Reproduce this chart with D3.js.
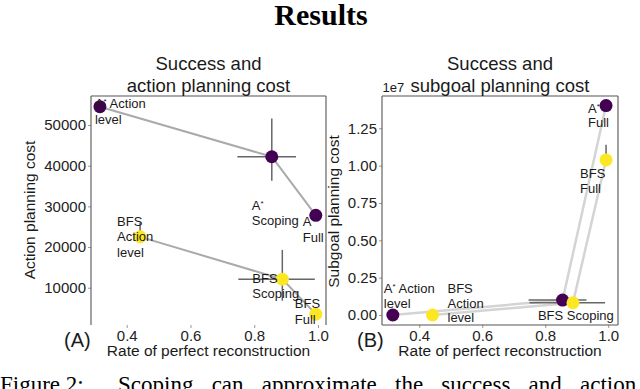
<!DOCTYPE html>
<html>
<head>
<meta charset="utf-8">
<script src="https://cdn.jsdelivr.net/npm/d3@7"></script>
<style>
  body { margin: 0; background: #fff; }
  svg { display: block; }
  text { font-family: 'Liberation Sans', Arial, sans-serif; fill: #1a1a1a; }
</style>
</head>
<body>
<div id="chart"></div>
<script>
// values
const conditions = ['Action level', 'Scoping', 'Full'];
const astarRate = [0.316, 0.855, 0.993];
const bfsRate = [0.442, 0.888, 0.993];
const astarRateErr = [null, [0.747, 0.931], null];
const bfsRateErr = [null, [0.750, 0.990], null];

const astarActionCost = [54500, 42200, 27800];
const bfsActionCost = [22500, 12100, 3500];
const astarActionErr = [null, [36300, 51600], null];
const bfsActionErr = [[22500, 26000], [6800, 19300], null];

// subgoal cost in units of 1e7
const astarSubgoalCost = [0.0, 0.100, 1.402];
const bfsSubgoalCost = [0.0, 0.082, 1.038];
const astarSubgoalErr = [null, null, null];
const bfsSubgoalErr = [null, null, [1.038, 1.14]];

const rateTicks = [0.4, 0.6, 0.8, 1.0];
const actionTicks = [10000, 20000, 30000, 40000, 50000];
const subgoalTicks = [0, 0.25, 0.5, 0.75, 1.0, 1.25];

// point labels, '|' = line break
const leftAstarLabels = ['A* Action|level', 'A*|Scoping', 'A*|Full'];
const leftBfsLabels = ['BFS|Action|level', 'BFS|Scoping', 'BFS|Full'];
const rightAstarLabels = ['A* Action|level', null, 'A*|Full'];
const rightBfsLabels = ['BFS|Action|level', 'BFS Scoping', 'BFS|Full'];

const purple = '#440154';
const yellow = '#fde725';

const width = 640;
const height = 389;

const svg = d3.select('#chart')
              .append('svg')
              .attr('width', width)
              .attr('height', height);

svg.append('text')
   .attr('x', 321)
   .attr('y', 25)
   .attr('text-anchor', 'middle')
   .style('font-family', "'Liberation Serif', 'Times New Roman', serif")
   .style('font-weight', 'bold')
   .style('font-size', '30px')
   .style('fill', '#000')
   .text('Results');

const addLabel = (g, str, x, y, lh) => {
  const t = g.append('text')
             .attr('x', x)
             .attr('y', y)
             .style('font-size', '13px');
  str.split('|').forEach((line, k) => {
    const parts = line.split('*');
    parts.forEach((p, j) => {
      const ts = t.append('tspan').text(p);
      if (j === 0) ts.attr('x', x).attr('y', y + k * lh);
      else ts.attr('dy', 4);
      if (j < parts.length - 1) {
        t.append('tspan').attr('dy', -4).style('font-size', '8px').text('*');
      }
    });
  });
};

const drawPanel = (p) => {
  const g = svg.append('g');
  const x = d3.scaleLinear().domain(p.xDomain).range([p.left, p.right]);
  const y = d3.scaleLinear().domain(p.yDomain).range([p.bottom, p.top]);

  // axes
  const yAxis = d3.axisLeft(y).tickValues(p.yTicks).tickFormat(p.yFormat)
                  .tickSize(3).tickPadding(2);
  const xAxis = d3.axisBottom(x).tickValues(rateTicks).tickFormat(d3.format('.1f'))
                  .tickSize(3).tickPadding(2);
  const ya = g.append('g').attr('transform', 'translate(' + p.left + ',0)').call(yAxis);
  const xa = g.append('g').attr('transform', 'translate(0,' + p.bottom + ')').call(xAxis);
  [ya, xa].forEach((a) => {
    a.select('.domain').remove();
    a.selectAll('line').attr('stroke', '#999');
    a.selectAll('text').style('font-size', '15px').style('fill', '#222')
     .style('font-family', "'Liberation Sans', Arial, sans-serif");
  });

  // frame
  const spine = (x1, y1, x2, y2) => g.append('line')
     .attr('x1', x1).attr('y1', y1).attr('x2', x2).attr('y2', y2)
     .attr('stroke', '#555').attr('stroke-width', 1.1);
  spine(p.left, p.top, p.right, p.top);
  spine(p.left, p.top, p.left, p.bottom);
  spine(p.right, p.top, p.right, p.bottom);
  if (p.bottomSpine) spine(p.left, p.bottom, p.right, p.bottom);

  const line = d3.line().x((d) => x(d[0])).y((d) => y(d[1]));

  p.series.forEach((s) => {
    g.append('path')
     .datum(s.rate.map((r, i) => [r, s.cost[i]]))
     .attr('d', line)
     .attr('fill', 'none')
     .attr('stroke', p.lineColor)
     .attr('stroke-width', p.lineWidth);
  });

  p.series.forEach((s) => {
    s.rate.forEach((r, i) => {
      if (s.rateErr[i]) {
        g.append('line')
         .attr('x1', x(s.rateErr[i][0])).attr('x2', x(s.rateErr[i][1]))
         .attr('y1', y(s.cost[i])).attr('y2', y(s.cost[i]))
         .attr('stroke', '#666').attr('stroke-width', 1.5);
      }
      if (s.costErr[i]) {
        g.append('line')
         .attr('x1', x(r)).attr('x2', x(r))
         .attr('y1', y(s.costErr[i][0])).attr('y2', y(s.costErr[i][1]))
         .attr('stroke', '#666').attr('stroke-width', 1.5);
      }
    });
  });

  p.series.forEach((s) => {
    g.selectAll(null)
     .data(s.rate)
     .enter()
     .append('circle')
     .attr('cx', (d) => x(d))
     .attr('cy', (d, i) => y(s.cost[i]))
     .attr('r', 6.5)
     .attr('fill', s.color);
  });

  p.series.forEach((s) => {
    s.labels.forEach((lab, i) => {
      if (!lab) return;
      const off = s.offsets[i];
      addLabel(g, lab, x(s.rate[i]) + off[0], y(s.cost[i]) + off[1], p.labelLine);
    });
  });

  // titles and axis labels
  const cx = p.titleX;
  g.append('text').attr('x', cx).attr('y', 70).attr('text-anchor', 'middle')
   .style('font-size', '18.5px').text('Success and');
  g.append('text').attr('x', cx).attr('y', 91.5).attr('text-anchor', 'middle')
   .style('font-size', '18.5px').text(p.title);

  g.append('text').attr('x', cx).attr('y', 356).attr('text-anchor', 'middle')
   .style('font-size', '15.5px').text('Rate of perfect reconstruction');

  g.append('text')
   .attr('transform', 'translate(' + p.yLabelX + ',' + p.yLabelY + ') rotate(-90)')
   .attr('text-anchor', 'middle')
   .style('font-size', '15.5px')
   .text(p.yLabel);

  g.append('text').attr('x', p.tagX).attr('y', 347)
   .style('font-size', '20px').text(p.tag);
};

drawPanel({
  left: 91, right: 326, top: 96, bottom: 325,
  xDomain: [0.288, 1.025],
  yDomain: [836, 57130],
  yTicks: actionTicks,
  yFormat: d3.format('d'),
  bottomSpine: false,
  lineColor: '#aaaaaa', lineWidth: 2,
  labelLine: 15.5,
  titleX: 208.5,
  title: 'action planning cost',
  yLabel: 'Action planning cost', yLabelX: 35, yLabelY: 210,
  tag: '(A)', tagX: 64,
  series: [
    { rate: astarRate, cost: astarActionCost, rateErr: astarRateErr, costErr: astarActionErr,
      color: purple, labels: leftAstarLabels, offsets: [[-5, 1.5], [-20, 53], [-13, 11]] },
    { rate: bfsRate, cost: bfsActionCost, rateErr: bfsRateErr, costErr: bfsActionErr,
      color: yellow, labels: leftBfsLabels, offsets: [[-23, -11], [-30, 3.7], [-21, -6]] }
  ]
});

drawPanel({
  left: 382, right: 618, top: 96, bottom: 325,
  xDomain: [0.2816, 1.031],
  yDomain: [-0.067, 1.466],
  yTicks: subgoalTicks,
  yFormat: d3.format('.2f'),
  bottomSpine: true,
  lineColor: '#d4d4d4', lineWidth: 2.5,
  labelLine: 14.7,
  titleX: 500,
  title: 'subgoal planning cost',
  yLabel: 'Subgoal planning cost', yLabelX: 339, yLabelY: 211.5,
  tag: '(B)', tagX: 357,
  series: [
    { rate: astarRate, cost: astarSubgoalCost, rateErr: astarRateErr, costErr: astarSubgoalErr,
      color: purple, labels: rightAstarLabels, offsets: [[-9, -22], null, [-18, 7]] },
    { rate: bfsRate, cost: bfsSubgoalCost, rateErr: bfsRateErr, costErr: bfsSubgoalErr,
      color: yellow, labels: rightBfsLabels, offsets: [[15, -22], [-35, 17], [-26, 18]] }
  ]
});

// scale offset text of the right panel
svg.append('text')
   .attr('x', 382.5)
   .attr('y', 91.5)
   .style('font-size', '13px')
   .text('1e7');

// caption, cut off by the bottom edge
const caption = svg.append('text')
   .attr('y', 392)
   .style('font-family', "'Liberation Serif', 'Times New Roman', serif")
   .style('font-size', '23px')
   .style('fill', '#000');
caption.append('tspan').attr('x', 0).text('Figure 2:');
caption.append('tspan').attr('x', 118).style('word-spacing', '12.5px')
       .text('Scoping can approximate the success and action');
</script>
</body>
</html>
